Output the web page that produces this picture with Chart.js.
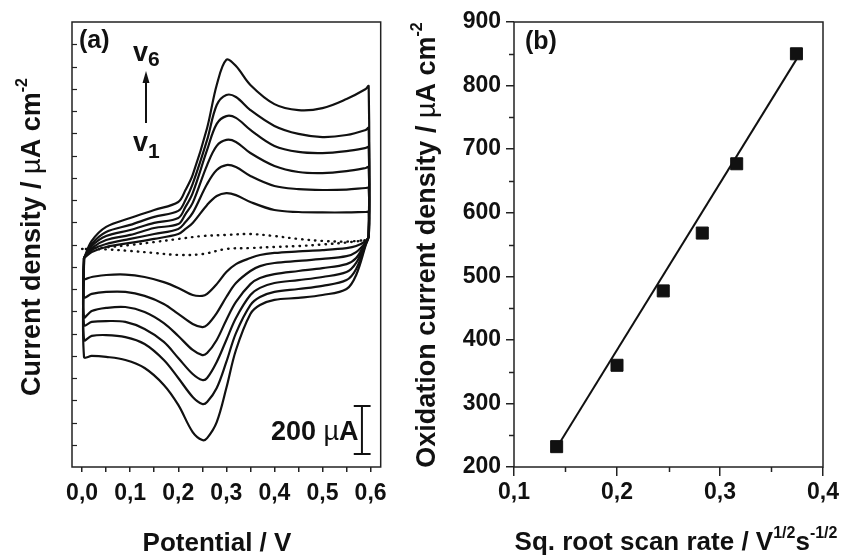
<!DOCTYPE html>
<html>
<head>
<meta charset="utf-8">
<script src="https://cdn.jsdelivr.net/npm/chart.js@4.4.0/dist/chart.umd.min.js"></script>
<style>
  body { margin: 0; background: #fff; width: 854px; height: 558px; overflow: hidden; position: relative; }
  canvas { position: absolute; top: 0; }
  #cv { left: 0; }
  #fit { left: 395px; }
</style>
</head>
<body>
<canvas id="cv" width="395" height="558"></canvas>
<canvas id="fit" width="459" height="558"></canvas>
<script>
// (a) cyclic voltammograms, potential in V, current density in uA cm-2
const potFwd = [0.004, 0.02, 0.05, 0.1, 0.15, 0.2, 0.215, 0.23, 0.26, 0.28, 0.3, 0.32, 0.35, 0.4, 0.45, 0.5, 0.55, 0.59, 0.596];
const potRev = [0.596, 0.59, 0.57, 0.55, 0.5, 0.45, 0.4, 0.37, 0.35, 0.32, 0.3, 0.28, 0.26, 0.25, 0.23, 0.2, 0.17, 0.13, 0.09, 0.05, 0.02, 0.004];

const fwdV1 = [-61, -34, -11, 7, 25, 47, 70, 97, 178, 218, 231, 222, 191, 155, 146, 144, 144, 146, 146];
const fwdV2 = [-61, -25, 2, 25, 47, 70, 101, 142, 272, 335, 357, 348, 308, 263, 249, 245, 247, 254, 254];
const fwdV3 = [-61, -16, 20, 43, 74, 92, 137, 187, 357, 443, 470, 461, 411, 353, 326, 321, 330, 344, 348];
const fwdV4 = [-61, -7, 38, 65, 97, 119, 169, 231, 425, 542, 577, 569, 515, 443, 416, 411, 420, 434, 438];
const fwdV5 = [-61, 2, 56, 88, 124, 151, 200, 272, 470, 627, 672, 663, 604, 533, 497, 483, 492, 515, 524];
const fwdV6 = [-61, 16, 79, 119, 155, 191, 245, 313, 524, 717, 830, 802, 717, 631, 604, 613, 654, 699, 712];

const revV1 = [38, 16, -7, -16, -25, -31, -38, -47, -61, -88, -124, -178, -222, -231, -227, -195, -169, -146, -135, -137, -146, -153];
const revV2 = [38, 11, -34, -52, -65, -74, -83, -97, -119, -173, -236, -308, -362, -371, -357, -312, -267, -231, -213, -213, -222, -236];
const revV3 = [38, 11, -61, -88, -106, -119, -133, -151, -178, -258, -339, -429, -488, -497, -474, -411, -353, -303, -281, -285, -299, -326];
const revV4 = [38, 7, -83, -124, -146, -160, -173, -195, -227, -330, -429, -528, -600, -609, -582, -510, -438, -380, -348, -344, -348, -362];
const revV5 = [38, 2, -110, -160, -186, -200, -213, -236, -272, -398, -528, -645, -708, -717, -685, -600, -519, -447, -416, -407, -411, -429];
const revV6 = [38, -2, -137, -200, -227, -240, -249, -272, -312, -474, -645, -798, -870, -879, -843, -721, -631, -555, -519, -505, -501, -505];

// blank electrode (dotted)
const bgFwdX = [0, 0.05, 0.1, 0.15, 0.2, 0.25, 0.3, 0.35, 0.4, 0.45, 0.5, 0.55, 0.59];
const bgFwdY = [-20, -13, -2, 11, 25, 38, 43, 47, 38, 25, 16, 13, 20];
const bgRevX = [0.55, 0.5, 0.45, 0.4, 0.35, 0.3, 0.25, 0.2, 0.15, 0.1, 0.05, 0];
const bgRevY = [9, 0, -7, -11, -16, -20, -43, -47, -38, -29, -22, -20];

// 200 uA scale bar
const barX = [0.582, 0.565, 0.6];
const barY = [-726, -942];

const potTicks = [0, 0.05, 0.1, 0.15, 0.2, 0.25, 0.3, 0.35, 0.4, 0.45, 0.5, 0.55, 0.6];

// (b) oxidation peak current vs sqrt of scan rate
const sqrtRate = [0.1414, 0.2, 0.2449, 0.2828, 0.3162, 0.3742];
const oxCurrent = [232, 360, 477, 568, 677, 850];
const fitX = [0.1447, 0.3745];
const fitY = [239, 842];
const rateTicks = [0.1, 0.2, 0.3, 0.4];
const rateMinor = [0.15, 0.25, 0.35];
const curMinor = [250, 350, 450, 550, 650, 750, 850];

const FONT = '"Liberation Sans", Arial, sans-serif';
Chart.defaults.font.family = FONT;
Chart.defaults.color = '#111';

const zip = (xs, ys) => xs.map((x, i) => ({ x: x, y: ys[i] }));
const comma = v => v.toFixed(1).replace('.', ',');

// draws a row of text pieces (bold text, plain mu, superscripts)
function drawRuns(ctx, x, y, parts, align) {
    let w = 0;
    parts.forEach(p => { ctx.font = p[1]; w += ctx.measureText(p[0]).width; });
    let cx = align === 'center' ? x - w / 2 : x;
    ctx.textBaseline = 'alphabetic';
    ctx.textAlign = 'left';
    parts.forEach(p => {
        ctx.font = p[1];
        ctx.fillText(p[0], cx, y + (p[2] || 0));
        cx += ctx.measureText(p[0]).width;
    });
}

const B26 = 'bold 26px ' + FONT;
const B27 = 'bold 27px ' + FONT;
const R27 = '27px ' + FONT;
const B16 = 'bold 16px ' + FONT;

const frame = {
    id: 'frame',
    afterDraw(chart) {
        const a = chart.chartArea, ctx = chart.ctx;
        ctx.save();
        ctx.strokeStyle = '#222';
        ctx.lineWidth = 1.5;
        ctx.strokeRect(a.left, a.top, a.right - a.left, a.bottom - a.top);
        ctx.restore();
    }
};

const cvText = {
    id: 'cvText',
    afterDraw(chart) {
        const ctx = chart.ctx, a = chart.chartArea, ys = chart.scales.y;
        ctx.save();
        ctx.strokeStyle = '#222';
        ctx.lineWidth = 1.2;
        // inward ticks on the left axis
        for (let v = ys.min + 100; v < ys.max; v += 100) {
            const py = Math.round(ys.getPixelForValue(v)) + 0.5;
            ctx.beginPath();
            ctx.moveTo(a.left, py);
            ctx.lineTo(a.left + 5, py);
            ctx.stroke();
        }
        ctx.fillStyle = '#111';
        drawRuns(ctx, 217, 551, [['Potential / V', B26]], 'center');
        ctx.save();
        ctx.translate(40, 237);
        ctx.rotate(-Math.PI / 2);
        drawRuns(ctx, 0, 0, [['Current density / ', B27], ['\u00b5', R27], ['A cm', B27], ['-2', B16, -13]], 'center');
        ctx.restore();
        drawRuns(ctx, 79, 48, [['(a)', 'bold 25px ' + FONT]]);
        drawRuns(ctx, 133, 61, [['v', 'bold 27px ' + FONT], ['6', 'bold 21px ' + FONT, 5]]);
        drawRuns(ctx, 133, 151, [['v', 'bold 27px ' + FONT], ['1', 'bold 21px ' + FONT, 7]]);
        drawRuns(ctx, 271, 440, [['200 ', 'bold 27px ' + FONT], ['\u00b5', '27px ' + FONT], ['A', 'bold 27px ' + FONT]]);
        // arrow v1 -> v6
        ctx.strokeStyle = '#111';
        ctx.lineWidth = 2;
        ctx.beginPath();
        ctx.moveTo(146, 123);
        ctx.lineTo(146, 80);
        ctx.stroke();
        ctx.beginPath();
        ctx.moveTo(146, 71);
        ctx.lineTo(142.5, 83);
        ctx.lineTo(149.5, 83);
        ctx.closePath();
        ctx.fill();
        ctx.restore();
    }
};

const fitText = {
    id: 'fitText',
    afterDraw(chart) {
        const ctx = chart.ctx, a = chart.chartArea;
        const xs = chart.scales.x, ys = chart.scales.y;
        ctx.save();
        ctx.strokeStyle = '#222';
        ctx.lineWidth = 1.5;
        rateMinor.forEach(v => {
            const px = Math.round(xs.getPixelForValue(v)) + 0.5;
            ctx.beginPath(); ctx.moveTo(px, a.bottom); ctx.lineTo(px, a.bottom + 5); ctx.stroke();
        });
        curMinor.forEach(v => {
            const py = Math.round(ys.getPixelForValue(v)) + 0.5;
            ctx.beginPath(); ctx.moveTo(a.left, py); ctx.lineTo(a.left - 5, py); ctx.stroke();
        });
        ctx.fillStyle = '#111';
        drawRuns(ctx, 281, 550, [['Sq. root scan rate / V', B26], ['1/2', B16, -12], ['s', B26], ['-1/2', B16, -12]], 'center');
        ctx.save();
        ctx.translate(40, 245);
        ctx.rotate(-Math.PI / 2);
        drawRuns(ctx, 0, 0, [['Oxidation current density / ', B27], ['\u00b5', R27], ['A cm', B27], ['-2', B16, -13]], 'center');
        ctx.restore();
        drawRuns(ctx, 130, 49, [['(b)', 'bold 25px ' + FONT]]);
        ctx.restore();
    }
};

function loop(fwd, rev) {
    const pts = zip(potFwd, fwd).concat(zip(potRev, rev));
    pts.push({ x: potFwd[0], y: fwd[0] });
    return {
        data: pts, showLine: true, borderColor: '#111', borderWidth: 2.2,
        pointRadius: 0, tension: 0.35, fill: false
    };
}

const bar = (pts) => ({ data: pts, showLine: true, borderColor: '#111', borderWidth: 2, pointRadius: 0, tension: 0 });

new Chart(document.getElementById('cv'), {
    type: 'scatter',
    data: {
        datasets: [
            loop(fwdV1, revV1), loop(fwdV2, revV2), loop(fwdV3, revV3),
            loop(fwdV4, revV4), loop(fwdV5, revV5), loop(fwdV6, revV6),
            {
                data: zip(bgFwdX, bgFwdY).concat(zip(bgRevX, bgRevY)), showLine: true,
                borderColor: '#111', borderWidth: 2.4, borderDash: [0.5, 6], borderCapStyle: 'round',
                pointRadius: 0, tension: 0.35
            },
            bar([{ x: barX[0], y: barY[0] }, { x: barX[0], y: barY[1] }]),
            bar([{ x: barX[1], y: barY[0] }, { x: barX[2], y: barY[0] }]),
            bar([{ x: barX[1], y: barY[1] }, { x: barX[2], y: barY[1] }])
        ]
    },
    options: {
        responsive: false,
        animation: false,
        devicePixelRatio: 1,
        layout: { padding: { top: 22, right: 13, left: 0, bottom: 0 } },
        plugins: { legend: { display: false }, tooltip: { enabled: false } },
        scales: {
            x: {
                type: 'linear', min: -0.021, max: 0.621,
                afterBuildTicks: s => { s.ticks = potTicks.map(v => ({ value: v })); },
                afterFit: s => { s.height = 91; },
                grid: { drawOnChartArea: false, tickLength: 5, color: '#222', lineWidth: 1.5 },
                border: { display: false },
                ticks: {
                    padding: 8, autoSkip: false, maxRotation: 0,
                    font: { size: 23, weight: 'bold' },
                    callback: v => Math.round(v * 100) % 10 === 0 ? comma(v) : ''
                }
            },
            y: {
                type: 'linear', min: -1000, max: 1000,
                afterFit: s => { s.width = 72; },
                grid: { display: false },
                border: { display: false },
                ticks: { display: false }
            }
        }
    },
    plugins: [frame, cvText]
});

new Chart(document.getElementById('fit'), {
    type: 'scatter',
    data: {
        datasets: [
            {
                data: zip(sqrtRate, oxCurrent), pointStyle: 'rect', pointRadius: 8.5,
                backgroundColor: '#111', borderColor: '#111', borderWidth: 1
            },
            {
                data: zip(fitX, fitY), showLine: true, borderColor: '#111', borderWidth: 2,
                pointRadius: 0, tension: 0
            }
        ]
    },
    options: {
        responsive: false,
        animation: false,
        devicePixelRatio: 1,
        layout: { padding: { top: 22, right: 31, left: 0, bottom: 0 } },
        plugins: { legend: { display: false }, tooltip: { enabled: false } },
        scales: {
            x: {
                type: 'linear', min: 0.1, max: 0.4,
                afterBuildTicks: s => { s.ticks = rateTicks.map(v => ({ value: v })); },
                afterFit: s => { s.height = 91; },
                grid: { drawOnChartArea: false, tickLength: 9, color: '#222', lineWidth: 1.5 },
                border: { display: false },
                ticks: { padding: 3, maxRotation: 0, font: { size: 23, weight: 'bold' }, callback: v => comma(v) }
            },
            y: {
                type: 'linear', min: 200, max: 900,
                afterFit: s => { s.width = 119; },
                grid: { drawOnChartArea: false, tickLength: 8, color: '#222', lineWidth: 1.5 },
                border: { display: false },
                ticks: { stepSize: 100, padding: 5, font: { size: 23, weight: 'bold' } }
            }
        }
    },
    plugins: [frame, fitText]
});
</script>
</body>
</html>
